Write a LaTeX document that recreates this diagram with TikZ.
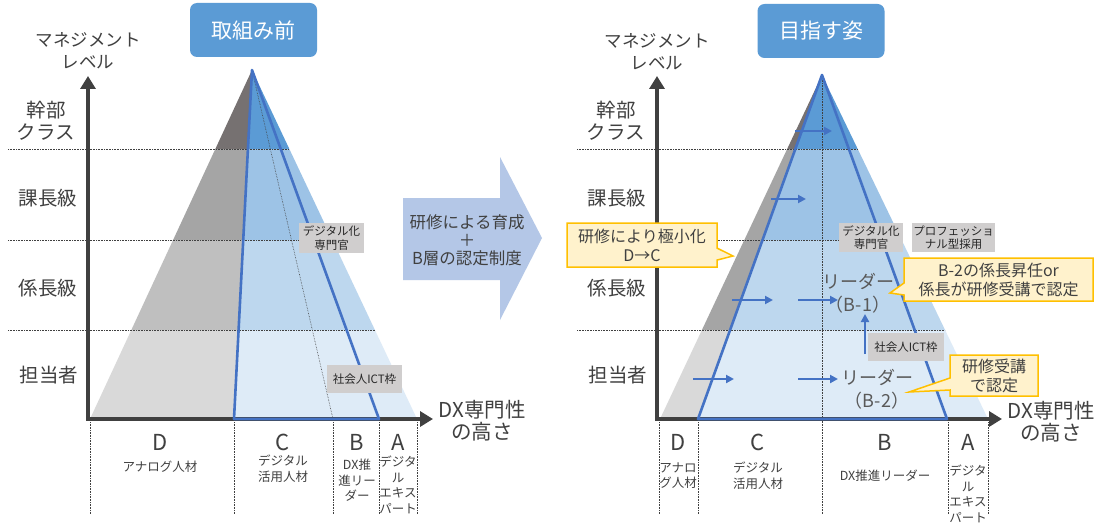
\documentclass[tikz,border=0pt]{standalone}
\usepackage{fontspec}
\setmainfont{Noto Sans CJK JP}
\usetikzlibrary{arrows.meta,shapes.callouts}
\definecolor{axisc}{HTML}{404040}
\definecolor{txt}{HTML}{404040}
\definecolor{ttl}{HTML}{5B9BD5}
\definecolor{bline}{HTML}{4472C4}
\definecolor{g1}{HTML}{767171}
\definecolor{g2}{HTML}{A5A5A5}
\definecolor{g3}{HTML}{BFBFBF}
\definecolor{g4}{HTML}{D9D9D9}
\definecolor{b1}{HTML}{5B9BD5}
\definecolor{b2}{HTML}{9DC3E6}
\definecolor{b3}{HTML}{BDD7EE}
\definecolor{b4}{HTML}{DEEBF7}
\definecolor{tagc}{HTML}{D0CECE}
\definecolor{arrowc}{HTML}{B4C7E7}
\definecolor{calf}{HTML}{FFF2CC}
\definecolor{cald}{HTML}{FFC000}
\tikzset{
  axisline/.style={line width=4.5pt, draw=axisc, line join=miter,
    {Triangle[width=15pt,length=13pt]}-{Triangle[width=15pt,length=13pt]}},
  dotline/.style={densely dotted, line width=0.6pt, draw=black!75},
  blueline/.style={line width=2.6pt, draw=bline, line join=round},
  barrow/.style={line width=2pt, draw=bline, -{Triangle[width=8pt,length=8pt]}},
  lvl/.style={text=txt, align=center, inner sep=0pt, font=\fontsize{19.5}{22}\selectfont},
  axlab/.style={text=txt, align=center, inner sep=0pt, font=\fontsize{17.5}{22}\selectfont},
  dxlab/.style={text=txt, align=center, inner sep=0pt, font=\fontsize{20.5}{22}\selectfont},
  ttlbox/.style={fill=ttl, rounded corners=7pt, text=white, minimum width=127pt,
    minimum height=54pt, inner sep=0pt, font=\fontsize{21}{25}\selectfont},
  letter/.style={text=txt, inner sep=0pt, font=\fontsize{22}{24}\selectfont},
  small/.style={text=txt, align=center, inner sep=0pt, font=\fontsize{12.5}{15.5}\selectfont},
  tagbox/.style={fill=tagc, text=black!85, align=center, inner sep=0pt,
    font=\fontsize{11.5}{13.5}\selectfont},
  leader/.style={text=black!65, align=center, inner sep=0pt, font=\fontsize{18}{23}\selectfont},
  callbox/.style={rectangle callout, fill=calf, draw=cald, line width=1.5pt,
    align=center, inner sep=0pt, text=txt, callout pointer width=12pt,
    font=\fontsize{16}{19}\selectfont},
  midtext/.style={text=txt, align=center, inner sep=0pt, font=\fontsize{16.5}{18}\selectfont},
}
\begin{document}
\begin{tikzpicture}[x=1pt,y=-1pt]
\useasboundingbox (0,0) rectangle (1102,524);
\fill[white] (0,0) rectangle (1102,524);

% ================= LEFT PANEL =================
\node[ttlbox] (t1) at (253.5,30) {取組み前};

\begin{scope}
  \clip (252,70) -- (90,419) -- (234,419) -- cycle;
  \fill[g1] (0,0) rectangle (1102,149);
  \fill[g2] (0,149) rectangle (1102,240);
  \fill[g3] (0,240) rectangle (1102,330);
  \fill[g4] (0,330) rectangle (1102,419);
\end{scope}
\begin{scope}
  \clip (252,70) -- (234,419) -- (417,419) -- cycle;
  \fill[b1] (0,0) rectangle (1102,149);
  \fill[b2] (0,149) rectangle (1102,240);
  \fill[b3] (0,240) rectangle (1102,330);
  \fill[b4] (0,330) rectangle (1102,419);
\end{scope}

\draw[dotline] (8,149) -- (289,149);
\draw[dotline] (8,240) -- (332,240);
\draw[dotline] (8,330) -- (375,330);
\draw[dotline] (252,70) -- (333,419);
\foreach \xx in {90,234,333,379,417} \draw[dotline] (\xx,422) -- (\xx,514);

\draw[axisline] (88,76) -- (88,419) -- (433,419);
\draw[blueline] (252,70) -- (234,419) -- (379,419) -- cycle;

\node[axlab] (l1a) at (88,51) {マネジメント\\レベル};
\node[lvl] (l1b) at (46,121) {幹部\\クラス};
\node[lvl] (l1c) at (48,198) {課長級};
\node[lvl] (l1d) at (48,288) {係長級};
\node[lvl] (l1e) at (49,375) {担当者};
\node[dxlab] (l1x) at (482,421) {DX専門性\\の高さ};

\node[tagbox, minimum width=65pt, minimum height=30pt] (tg1) at (331.5,238) {デジタル化\\専門官};
\node[tagbox, minimum width=75pt, minimum height=28pt] (tg2) at (364.5,379) {社会人ICT枠};

\node[letter] (dL) at (160,442) {D};
\node[small] (dLt) at (160,467) {アナログ人材};
\node[letter] (cL) at (283,442) {C};
\node[small] (cLt) at (283,468.5) {デジタル\\活用人材};
\node[letter] (bL) at (357,442) {B};
\node[small] (bLt) at (357,480.5) {DX推\\進リー\\ダー};
\node[letter] (aL) at (398,442) {A};
\node[small] (aLt) at (398,485) {デジタ\\ル\\エキス\\パート};

% ================= MIDDLE ARROW =================
\fill[arrowc] (403,198) -- (500,198) -- (500,157) -- (542,238) -- (500,320) -- (500,280) -- (403,280) -- cycle;
\node[midtext] (mid) at (467,240) {研修による育成\\＋\\B層の認定制度};

% ================= RIGHT PANEL =================
\node[ttlbox] (t2) at (821,31) {目指す姿};

\begin{scope}
  \clip (822,75) -- (660,419) -- (698,419) -- cycle;
  \fill[g1] (0,0) rectangle (1102,149);
  \fill[g2] (0,149) rectangle (1102,240);
  \fill[g2] (0,240) rectangle (1102,330);
  \fill[g4] (0,330) rectangle (1102,419);
\end{scope}
\begin{scope}
  \clip (822,75) -- (698,419) -- (988,419) -- cycle;
  \fill[b1] (0,0) rectangle (1102,149);
  \fill[b2] (0,149) rectangle (1102,240);
  \fill[b3] (0,240) rectangle (1102,330);
  \fill[b4] (0,330) rectangle (1102,419);
\end{scope}

\draw[dotline] (577,149) -- (858,149);
\draw[dotline] (577,240) -- (902,240);
\draw[dotline] (577,330) -- (945,330);
\draw[dotline] (822,75) -- (822,514);
\foreach \xx in {659,698,948,988} \draw[dotline] (\xx,422) -- (\xx,514);

\draw[axisline] (657,76) -- (657,419) -- (1002,419);
\draw[blueline] (822,75) -- (698,419) -- (947,419) -- cycle;

\node[axlab] (l2a) at (657,52) {マネジメント\\レベル};
\node[lvl] (l2b) at (616,121) {幹部\\クラス};
\node[lvl] (l2c) at (617,198) {課長級};
\node[lvl] (l2d) at (617,288) {係長級};
\node[lvl] (l2e) at (618,375) {担当者};
\node[dxlab] (l2x) at (1051,422) {DX専門性\\の高さ};

% arrows
\coordinate (p1s) at (795,131); \coordinate (p1e) at (832,131);
\coordinate (p2s) at (771,199); \coordinate (p2e) at (806,199);
\coordinate (p3s) at (732,300); \coordinate (p3e) at (773,300);
\coordinate (p4s) at (798,300); \coordinate (p4e) at (838,300);
\coordinate (p5s) at (693,379); \coordinate (p5e) at (734,379);
\coordinate (p6s) at (798,379); \coordinate (p6e) at (838,379);
\coordinate (p7s) at (865,354); \coordinate (p7e) at (865,314);
\draw[barrow] (p1s) -- (p1e);
\draw[barrow] (p2s) -- (p2e);
\draw[barrow] (p3s) -- (p3e);
\draw[barrow] (p4s) -- (p4e);
\draw[barrow] (p5s) -- (p5e);
\draw[barrow] (p6s) -- (p6e);
\draw[barrow] (p7s) -- (p7e);

\node[leader] (ld1) at (858,293) {リーダー\\（B-1）};
\node[leader] (ld2) at (877,389) {リーダー\\（B-2）};

\node[tagbox, minimum width=64pt, minimum height=29pt] (tg3) at (871,237.5) {デジタル化\\専門官};
\node[tagbox, minimum width=83pt, minimum height=29pt] (tg4) at (953.5,237.5) {プロフェッショ\\ナル型採用};
\node[tagbox, minimum width=76pt, minimum height=28pt] (tg5) at (906,347) {社会人ICT枠};

\node[callbox, minimum width=150pt, minimum height=44pt, callout absolute pointer={(733,256)}] (c1) at (642,245) {研修により極小化\\D→C};
\node[callbox, minimum width=189pt, minimum height=43pt, callout absolute pointer={(890,293)}] (c2) at (998.5,279.5) {B-2の係長昇任or\\係長が研修受講で認定};
\node[callbox, minimum width=88pt, minimum height=41pt, callout absolute pointer={(909,392)}] (c3) at (994,375.5) {研修受講\\で認定};

\node[letter] (dR) at (678,442) {D};
\node[small] (dRt) at (678,475.5) {アナロ\\グ人材};
\node[letter] (cR) at (758,442) {C};
\node[small] (cRt) at (758,475.5) {デジタル\\活用人材};
\node[letter] (bR) at (885,442) {B};
\node[small] (bRt) at (885,476) {DX推進リーダー};
\node[letter] (aR) at (968,442) {A};
\node[small] (aRt) at (968,494) {デジタ\\ル\\エキス\\パート};
\end{tikzpicture}
\end{document}
